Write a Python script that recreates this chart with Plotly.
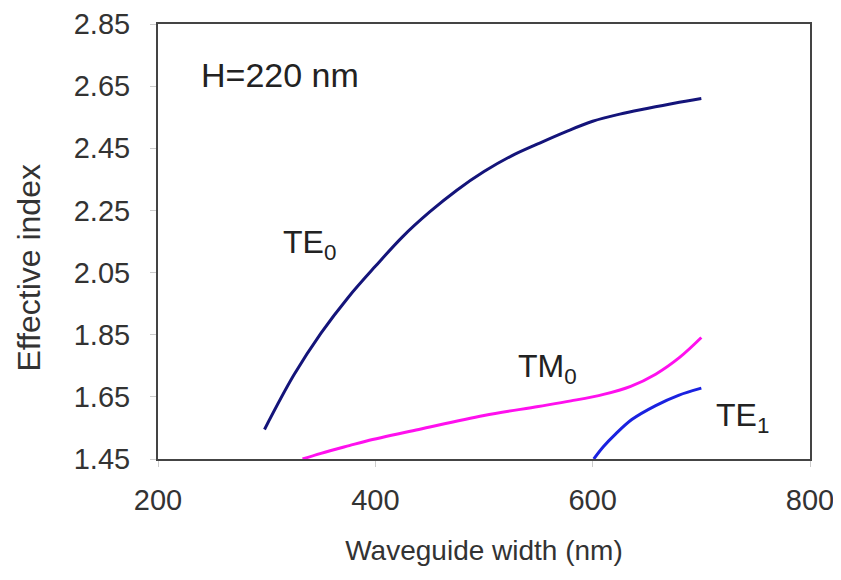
import plotly.graph_objects as go

te0_x = [298, 325, 350, 375, 400, 425, 450, 475, 500, 525, 550, 575, 600, 625, 650, 675, 700]
te0_y = [1.545, 1.72, 1.855, 1.97, 2.07, 2.165, 2.245, 2.315, 2.375, 2.425, 2.465, 2.503, 2.537, 2.560, 2.578, 2.595, 2.61]

tm0_x = [333, 350, 376, 392, 440, 500, 550, 580, 610, 635, 658, 680, 700]
tm0_y = [1.45, 1.468, 1.493, 1.508, 1.545, 1.59, 1.619, 1.637, 1.658, 1.684, 1.723, 1.777, 1.841]

te1_x = [601, 610, 621, 636, 658, 679, 700]
te1_y = [1.45, 1.49, 1.53, 1.577, 1.622, 1.655, 1.678]

x_ticks = [200, 400, 600, 800]
y_ticks = [1.45, 1.65, 1.85, 2.05, 2.25, 2.45, 2.65, 2.85]

FONT = "Liberation Sans, Arial, sans-serif"

fig = go.Figure()
fig.add_trace(go.Scatter(x=te0_x, y=te0_y, mode="lines", line=dict(color="#14147a", width=3), line_shape="spline"))
fig.add_trace(go.Scatter(x=tm0_x, y=tm0_y, mode="lines", line=dict(color="#ff10ee", width=3), line_shape="spline"))
fig.add_trace(go.Scatter(x=te1_x, y=te1_y, mode="lines", line=dict(color="#1a22e0", width=3), line_shape="spline"))

annots = [
    dict(x=238, y=2.685, text="H=220 nm", xanchor="left", size=34),
    dict(x=339, y=2.14, text="TE<sub>0</sub>", xanchor="center", size=32),
    dict(x=558, y=1.742, text="TM<sub>0</sub>", xanchor="center", size=32),
    dict(x=738, y=1.585, text="TE<sub>1</sub>", xanchor="center", size=32),
]
for a in annots:
    fig.add_annotation(x=a["x"], y=a["y"], text=a["text"], xanchor=a["xanchor"], yanchor="middle",
                       showarrow=False, font=dict(family=FONT, size=a["size"], color="#222"))

# y-axis title placed as rotated text (it sits below the plot centre in the reference)
fig.add_annotation(x=0, y=0.44, xref="paper", yref="paper", xshift=-129, text="Effective index",
                   textangle=-90, xanchor="center", yanchor="middle", showarrow=False,
                   font=dict(family=FONT, size=32, color="#333"))

fig.update_layout(
    width=833, height=564,
    margin=dict(l=150, r=31, t=16, b=113),
    paper_bgcolor="white", plot_bgcolor="white",
    showlegend=False,
    font=dict(family=FONT, size=29, color="#333"),
    xaxis=dict(range=[200, 800], tickvals=x_ticks, ticktext=[str(v) for v in x_ticks],
               showgrid=False, zeroline=False, showline=True, linecolor="#444", linewidth=2, mirror=True,
               ticks="outside", ticklen=6, tickcolor="#ccc", ticklabelstandoff=8,
               ticklabeloverflow="allow", automargin=False,
               tickfont=dict(size=29, color="#333"),
               title=dict(text="Waveguide width (nm)", font=dict(size=28, color="#333"), standoff=26)),
    yaxis=dict(range=[1.45, 2.85], tickvals=y_ticks, ticktext=[f"{v:.2f}" for v in y_ticks],
               showgrid=False, zeroline=False, showline=True, linecolor="#444", linewidth=2, mirror=True,
               ticks="outside", ticklen=6, tickcolor="#ccc", ticklabelstandoff=14,
               ticklabeloverflow="allow", automargin=False,
               tickfont=dict(size=29, color="#333")),
)

fig.write_html("out.html")
